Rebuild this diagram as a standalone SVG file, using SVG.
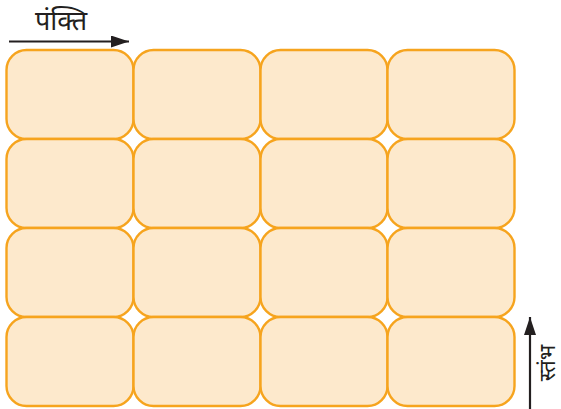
<svg xmlns="http://www.w3.org/2000/svg" width="561" height="409" viewBox="0 0 561 409">
<style>
.cell{fill:#FDE9CC;stroke:#F6A41E;stroke-width:2.4}
.lbl{font-family:"Noto Sans","Noto Sans Devanagari","Lohit Devanagari",sans-serif;fill:#231F20}
.arr{stroke:#231F20;stroke-width:2.2;fill:none}
</style>
<defs>
<marker id="ah" markerWidth="18" markerHeight="12" refX="18" refY="6" orient="auto" markerUnits="userSpaceOnUse" viewBox="0 0 18 12">
<path d="M0,0 L18,6 L0,12 Z" fill="#231F20"/>
</marker>
<rect id="c" width="127" height="89" rx="20" ry="20" class="cell"/>
</defs>
<rect width="561" height="409" fill="#fff"/>
<g id="grid">
<g id="r1c1"><use href="#c" x="6.5" y="50"/></g>
<g id="r1c2"><use href="#c" x="133.5" y="50"/></g>
<g id="r1c3"><use href="#c" x="260.5" y="50"/></g>
<g id="r1c4"><use href="#c" x="387.5" y="50"/></g>
<g id="r2c1"><use href="#c" x="6.5" y="139"/></g>
<g id="r2c2"><use href="#c" x="133.5" y="139"/></g>
<g id="r2c3"><use href="#c" x="260.5" y="139"/></g>
<g id="r2c4"><use href="#c" x="387.5" y="139"/></g>
<g id="r3c1"><use href="#c" x="6.5" y="228"/></g>
<g id="r3c2"><use href="#c" x="133.5" y="228"/></g>
<g id="r3c3"><use href="#c" x="260.5" y="228"/></g>
<g id="r3c4"><use href="#c" x="387.5" y="228"/></g>
<g id="r4c1"><use href="#c" x="6.5" y="317"/></g>
<g id="r4c2"><use href="#c" x="133.5" y="317"/></g>
<g id="r4c3"><use href="#c" x="260.5" y="317"/></g>
<g id="r4c4"><use href="#c" x="387.5" y="317"/></g>
</g>
<g id="connectors">
<line class="arr" x1="9" y1="41.5" x2="129" y2="41.5" marker-end="url(#ah)"/>
<line class="arr" x1="530" y1="409" x2="530" y2="317" marker-end="url(#ah)"/>
</g>
<g id="labels">
<text class="lbl" x="61" y="30" font-size="27" text-anchor="middle">पंक्ति</text>
<text class="lbl" transform="translate(555,363) rotate(-90)" font-size="22" text-anchor="middle">स्तंभ</text>
</g>
</svg>
